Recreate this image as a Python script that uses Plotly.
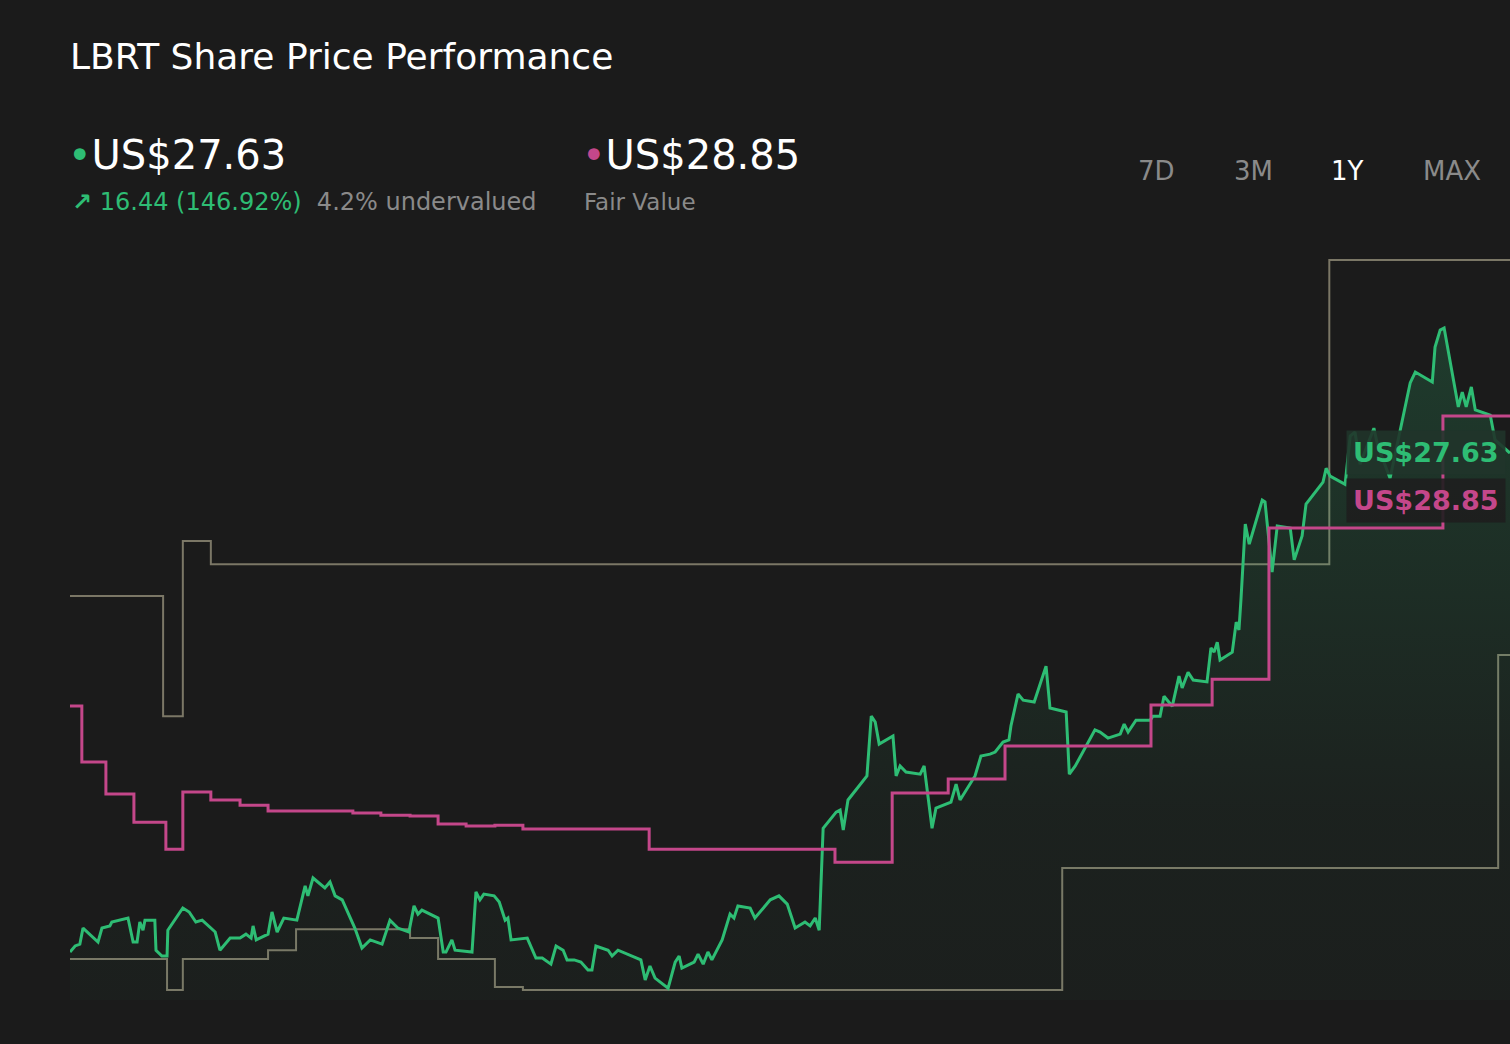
import plotly.graph_objects as go

# days since start of the 1Y window
price_days = [0, 1.3, 2.5, 3.3, 7.1, 8.1, 10.1, 10.6, 14.7, 16.0, 17.0, 17.7, 18.5, 19.0, 21.5, 21.8, 23.3, 24.6, 24.8,
              28.6, 30.2, 31.9, 33.5, 36.8, 38.0, 40.6, 43.1, 44.6, 45.9, 46.4, 47.2, 50.2, 51.2, 52.5, 54.2, 57.5,
              59.6, 60.3, 61.6, 64.6, 65.9, 67.2, 69.0, 72.2, 74.0, 76.1, 79.1, 81.1, 83.1, 85.9, 87.2, 88.2, 89.2,
              93.3, 94.6, 95.3, 96.8, 97.6, 101.9, 102.9, 103.9, 104.9, 107.5, 108.8, 110.3, 111.0, 111.8, 115.9,
              118.1, 119.7, 121.9, 123.2, 125.0, 126.0, 127.8, 129.5, 131.3, 132.3, 133.3, 136.4, 137.4, 138.9,
              144.7, 145.8, 147.0, 148.3, 151.6, 153.4, 154.4, 155.1, 158.2, 159.2, 160.5, 161.7, 162.7, 165.3,
              167.3, 168.3, 169.3, 172.4, 173.6, 175.7, 177.5, 179.7, 181.8, 183.8, 186.3, 187.6, 188.9, 189.9,
              190.9, 194.2, 195.2, 196.0, 197.2, 202.0, 203.1, 204.1, 205.1, 208.6, 209.4, 210.4, 211.9, 215.5,
              216.5, 218.5, 219.5, 223.3, 224.6, 225.6, 229.4, 230.9, 233.2, 234.5, 236.5, 238.0, 238.5, 240.3,
              241.6, 244.4, 247.4, 248.4, 252.5, 253.3, 254.8, 259.8, 261.1, 263.1, 266.2, 267.2, 268.2, 270.2,
              273.8, 274.5, 276.3, 277.3, 279.4, 281.1, 281.9, 283.4, 284.7, 288.2, 289.2, 290.0, 290.8, 291.5,
              294.6, 295.6, 296.3, 296.8, 297.9, 298.9, 302.2, 302.9, 304.7, 306.0, 309.3, 310.3, 312.3, 313.3,
              317.6, 318.4, 319.4, 323.2, 324.5, 325.7, 327.0, 330.5, 331.5, 334.6, 339.7, 341.0, 345.3, 346.0,
              347.3, 348.3, 351.9, 352.9, 353.9, 355.2, 356.2, 360.0, 361.2, 365.0]
price = [11.19, 11.39, 11.45, 11.98, 11.52, 11.98, 12.05, 12.18, 12.31, 11.52, 11.52, 12.18, 11.91, 12.24, 12.24, 11.25,
         11.06, 11.06, 11.91, 12.64, 12.51, 12.18, 12.24, 11.85, 11.25, 11.65, 11.65, 11.78, 11.65, 12.05, 11.59,
         11.78, 12.51, 11.85, 12.31, 12.24, 13.37, 13.04, 13.63, 13.30, 13.50, 13.04, 12.91, 11.98, 11.32, 11.59,
         11.45, 12.24, 11.98, 11.85, 12.71, 12.44, 12.57, 12.31, 11.19, 11.19, 11.59, 11.25, 11.19, 13.17, 12.91,
         13.10, 13.04, 12.84, 12.24, 12.31, 11.59, 11.65, 10.99, 10.99, 10.79, 11.39, 11.25, 10.93, 10.93, 10.86,
         10.60, 10.60, 11.39, 11.25, 11.06, 11.25, 10.93, 10.27, 10.73, 10.33, 10.00, 10.86, 11.06, 10.66, 10.86,
         11.12, 10.79, 11.19, 10.93, 11.59, 12.44, 12.31, 12.71, 12.64, 12.31, 12.64, 12.91, 13.04, 12.77, 11.98,
         12.18, 12.05, 12.31, 11.91, 15.27, 15.80, 15.87, 15.21, 16.20, 16.99, 18.96, 18.77, 18.04, 18.31, 16.99,
         17.32, 17.12, 17.05, 17.32, 15.27, 15.93, 16.13, 16.72, 16.20, 16.99, 17.65, 17.71, 17.78, 18.11, 18.18,
         18.64, 19.69, 19.49, 19.43, 20.61, 19.23, 19.10, 17.05, 17.32, 18.51, 18.44, 18.24, 18.37, 18.70, 18.44,
         18.83, 18.83, 18.96, 18.96, 19.62, 19.29, 20.28, 19.89, 20.41, 20.15, 20.09, 21.21, 21.07, 21.40, 20.81,
         21.07, 22.06, 21.80, 22.79, 25.29, 24.63, 26.08, 26.02, 23.71, 25.23, 25.16, 24.11, 24.90, 25.95, 26.67,
         27.13, 26.87, 26.60, 28.19, 28.32, 27.26, 28.45, 27.85, 26.80, 29.94, 30.30, 29.97, 31.12, 31.68, 31.75,
         29.15, 29.64, 29.15, 29.81, 29.05, 28.88, 28.06, 27.63]

fair_days = [0, 3.0, 9.1, 16.2, 24.3, 28.6, 35.7, 43.1, 50.2, 71.7, 78.8, 86.2, 93.3, 100.4, 107.7, 114.8, 146.8,
             193.9, 208.4, 222.6, 237.0, 274.0, 289.5, 303.9, 348.0, 365.0]
fair_value = [19.30, 17.45, 16.40, 15.47, 14.58, 16.46, 16.20, 16.03, 15.84, 15.77, 15.70, 15.67, 15.41, 15.34, 15.37,
              15.24, 14.58, 14.15, 16.43, 16.89, 17.98, 19.33, 20.18, 25.16, 28.85, 28.85]

upper_days = [0, 23.6, 28.6, 35.7, 319.2, 365.0]
upper_band = [22.92, 18.96, 24.73, 23.97, 33.99, 33.99]
lower_days = [0, 24.6, 28.6, 50.2, 57.3, 86.2, 93.3, 107.7, 114.8, 251.5, 362.0, 365.0]
lower_band = [10.96, 9.94, 10.96, 11.25, 11.94, 11.65, 10.96, 10.04, 9.94, 13.96, 20.98, 20.98]

GREEN = "#2ebd74"
PINK = "#c4478a"
GREY = "#7b7766"
BG = "#1b1b1b"

fig = go.Figure()
fig.add_trace(go.Scatter(x=upper_days, y=upper_band, mode="lines", line=dict(color=GREY, width=2, shape="hv"),
                         hoverinfo="skip"))
fig.add_trace(go.Scatter(x=lower_days, y=lower_band, mode="lines", line=dict(color=GREY, width=2, shape="hv"),
                         hoverinfo="skip"))
fig.add_trace(go.Scatter(x=price_days, y=price, mode="lines", line=dict(color=GREEN, width=3),
                         fill="tozeroy",
                         fillgradient=dict(type="vertical",
                                           colorscale=[[0, "rgba(46,189,116,0)"], [0.5, "rgba(46,189,116,0.04)"],
                                                       [1, "rgba(46,189,116,0.2)"]])))
fig.add_trace(go.Scatter(x=fair_days, y=fair_value, mode="lines", line=dict(color=PINK, width=3, shape="hv")))

FONT = "DejaVu Sans"


def ann(text, px, py, size, color, **kw):
    # px/py are pixel spots on the page converted to paper coords
    fig.add_annotation(text=text, x=(px - 70) / 1440, y=(1000 - py) / 750, xref="paper", yref="paper",
                       showarrow=False, font=dict(family=FONT, size=size, color=color),
                       xanchor=kw.pop("xanchor", "left"), yanchor="middle", **kw)


ann("LBRT Share Price Performance", 68, 56, 36, "white")
ann(f"<span style='color:{GREEN}'>•</span>US$27.63", 66, 155, 40, "white")
ann(f"<span style='color:{PINK}'>•</span>US$28.85", 580, 155, 40, "white")
ann(f"<span style='color:{GREEN}'><b>↗</b> 16.44 (146.92%)</span>  <span style='color:#8a8a8a'>4.2% undervalued</span>",
    70, 202, 24, GREEN)
ann("Fair Value", 582, 202, 23, "#8a8a8a")
for lab, px, col in [("7D", 1156, "#8a8a8a"), ("3M", 1253, "#8a8a8a"), ("1Y", 1347, "white"), ("MAX", 1452, "#8a8a8a")]:
    ann(lab, px, 171, 26, col, xanchor="center")

ann("<b>US$27.63</b>", 1346, 452, 27, GREEN, bgcolor="rgba(32,52,42,0.9)", borderpad=6)
ann("<b>US$28.85</b>", 1346, 500, 27, PINK, bgcolor="rgba(30,30,30,0.9)", borderpad=6)

fig.update_layout(
    width=1510, height=1044,
    margin=dict(l=70, r=0, t=250, b=44),
    paper_bgcolor=BG, plot_bgcolor=BG,
    showlegend=False,
    hovermode="x unified",
    xaxis=dict(range=[0, 365], visible=False),
    yaxis=dict(range=[9.61, 34.32], visible=False),
)
fig.write_html("out.html", config={"displayModeBar": False},
               post_script="document.body.style.margin='0';document.body.style.background='#1b1b1b';")
